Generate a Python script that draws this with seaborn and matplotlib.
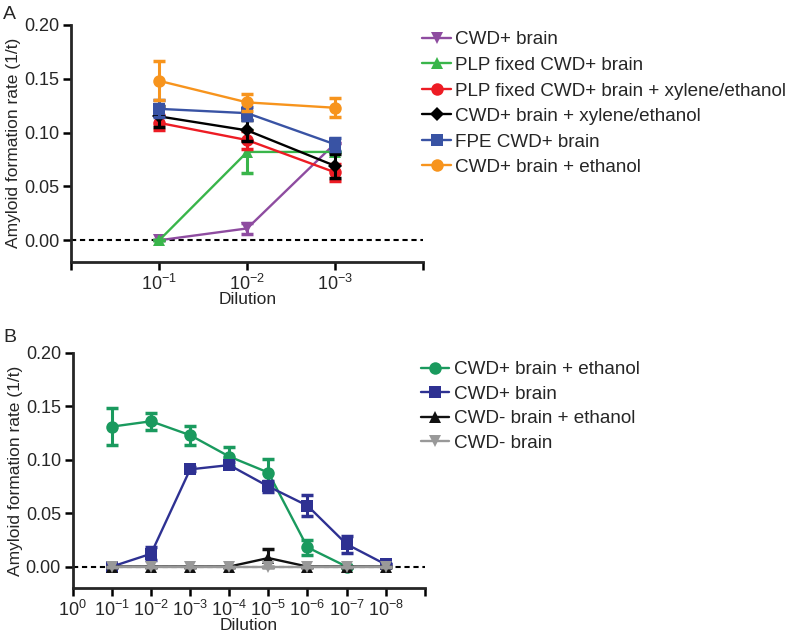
import matplotlib
matplotlib.use("Agg")
import matplotlib.pyplot as plt
import numpy as np
import pandas as pd
import seaborn as sns

# panel A
dilutions_a = [1, 2, 3]
series_a = [
    "CWD+ brain",
    "PLP fixed CWD+ brain",
    "PLP fixed CWD+ brain + xylene/ethanol",
    "CWD+ brain + xylene/ethanol",
    "FPE CWD+ brain",
    "CWD+ brain + ethanol",
]
mean_a = [
    [0.000, 0.011, 0.090],
    [0.000, 0.082, 0.082],
    [0.109, 0.093, 0.063],
    [0.115, 0.102, 0.069],
    [0.122, 0.118, 0.089],
    [0.148, 0.128, 0.123],
]
err_a = [
    [0.000, 0.005, 0.000],
    [0.000, 0.020, 0.000],
    [0.007, 0.008, 0.008],
    [0.010, 0.010, 0.011],
    [0.008, 0.006, 0.006],
    [0.018, 0.008, 0.009],
]
colors_a = ["#8e4ca0", "#39b54a", "#ed1c24", "#000000", "#3953a4", "#f7941d"]
markers_a = ["v", "^", "o", "D", "s", "o"]
ticks_a = [r"$10^{-1}$", r"$10^{-2}$", r"$10^{-3}$"]

# panel B
series_b = [
    "CWD+ brain + ethanol",
    "CWD+ brain",
    "CWD- brain + ethanol",
    "CWD- brain",
]
dil_b = [
    [1, 2, 3, 4, 5, 6, 7],
    [1, 2, 3, 4, 5, 6, 7, 8],
    [1, 2, 3, 4, 5, 6, 7, 8],
    [1, 2, 3, 4, 5, 6, 7, 8],
]
mean_b = [
    [0.131, 0.136, 0.123, 0.103, 0.088, 0.018, 0.000],
    [0.000, 0.012, 0.091, 0.095, 0.075, 0.057, 0.021, 0.002],
    [0.000, 0.000, 0.000, 0.000, 0.008, 0.000, 0.000, 0.000],
    [0.000, 0.000, 0.000, 0.000, 0.000, 0.000, 0.000, 0.000],
]
err_b = [
    [0.017, 0.008, 0.009, 0.009, 0.013, 0.007, 0.000],
    [0.000, 0.006, 0.002, 0.003, 0.005, 0.010, 0.008, 0.000],
    [0.000, 0.000, 0.000, 0.000, 0.008, 0.000, 0.000, 0.000],
    [0.000, 0.000, 0.000, 0.000, 0.000, 0.000, 0.000, 0.000],
]
colors_b = ["#1a9a5e", "#2e3192", "#111111", "#999999"]
markers_b = ["o", "s", "^", "v"]
ticks_b = [r"$10^{0}$"] + [r"$10^{-%d}$" % i for i in range(1, 9)]

sns.set_style("ticks")
plt.rcParams["font.family"] = ["Liberation Sans", "DejaVu Sans"]
plt.rcParams["mathtext.fontset"] = "custom"
plt.rcParams["mathtext.rm"] = "Liberation Sans"
plt.rcParams["mathtext.it"] = "Liberation Sans:italic"
plt.rcParams["mathtext.default"] = "regular"

fig = plt.figure(figsize=(8, 6.37), dpi=100)
ax_a = fig.add_axes([0.089, 0.589, 0.44, 0.372])
ax_b = fig.add_axes([0.091, 0.077, 0.44, 0.369])


def draw_panel(ax, xs_list, means, errs, names, colors, markers):
    for xs, m, e, name, c, mk in zip(xs_list, means, errs, names, colors, markers):
        df = pd.DataFrame({"x": xs, "y": m})
        ax.errorbar(xs, m, yerr=e, fmt="none", ecolor=c, elinewidth=2.2,
                    capsize=4.5, capthick=2.5, zorder=3)
        sns.lineplot(data=df, x="x", y="y", ax=ax, color=c, marker=mk,
                     markersize=9 if mk != "D" else 7, markeredgewidth=0,
                     linewidth=1.7, label=name, zorder=3)


draw_panel(ax_a, [dilutions_a] * 6, mean_a, err_a, series_a, colors_a, markers_a)
draw_panel(ax_b, dil_b, mean_b, err_b, series_b, colors_b, markers_b)

for ax in (ax_a, ax_b):
    ax.axhline(0, color="black", lw=1.5, ls=(0, (2.5, 1.8)), zorder=1)
    ax.set_ylim(-0.02, 0.2)
    ax.set_yticks([0.0, 0.05, 0.10, 0.15, 0.20])
    ax.set_yticklabels(["0.00", "0.05", "0.10", "0.15", "0.20"])
    ax.set_ylabel("Amyloid formation rate (1/t)", fontsize=12.5, labelpad=2)
    ax.set_xlabel("Dilution", fontsize=12.5, labelpad=-1)
    ax.tick_params(labelsize=13, width=1.8, length=5.5, color="black", pad=3)
    for s in ("left", "bottom"):
        ax.spines[s].set_linewidth(2)
    sns.despine(ax=ax)

ax_a.set_xlim(0, 4)
ax_a.set_xticks([0, 1, 2, 3, 4])
ax_a.set_xticklabels([""] + ticks_a + [""])
ax_b.set_xlim(0, 9)
ax_b.set_xticks(list(range(10)))
ax_b.set_xticklabels(ticks_b + [""])

leg_kw = dict(frameon=False, fontsize=13.6, handlelength=1.5, handletextpad=0.25,
              borderpad=0, borderaxespad=0, loc="upper left")
ax_a.legend(bbox_to_anchor=(0.528, 0.951), bbox_transform=fig.transFigure,
            labelspacing=0.44, **leg_kw)
ax_b.legend(bbox_to_anchor=(0.526, 0.433), bbox_transform=fig.transFigure,
            labelspacing=0.38, **leg_kw)

fig.text(0.004, 0.99, "A", fontsize=14, va="top")
fig.text(0.004, 0.483, "B", fontsize=14, va="top")

fig.savefig("out.png", dpi=100)
